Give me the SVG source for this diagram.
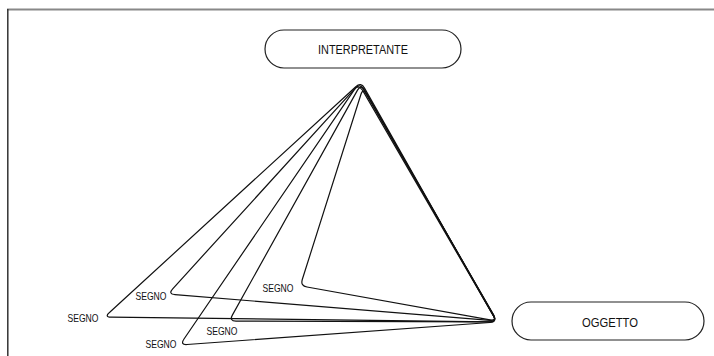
<svg xmlns="http://www.w3.org/2000/svg" width="714" height="356" viewBox="0 0 714 356">
<style>
.bg{fill:#fff}
.pill{fill:#fff;stroke:#222;stroke-width:1.2}
.tri{fill:none;stroke:#111;stroke-width:1.2;stroke-linejoin:round}
.lbl{font-family:"Liberation Sans",Arial,sans-serif;font-size:10.5px;fill:#111;text-anchor:middle}
.big{font-family:"Liberation Sans",Arial,sans-serif;font-size:12px;fill:#111;text-anchor:middle}
</style>
<rect class="bg" x="0" y="0" width="714" height="356"/>
<g id="frame">
<line x1="7" y1="9.5" x2="714" y2="9.5" stroke="#888" stroke-width="2"/>
<line x1="7.8" y1="9" x2="7.8" y2="356" stroke="#333" stroke-width="1.5"/>
</g>
<g id="connectors">
<path class="tri" d="M355.8,86.7 L110,312 Q104,317 111,317.2 L490,321.8 Q497,322 493.5,315.9 L364.5,88.1 Q361,82 355.8,86.7 Z"/>
<path class="tri" d="M355.3,88.2 L172.7,288.8 Q168,294 175,294.6 L490,320.4 Q497,321 493.5,314.9 L363.5,89.1 Q360,83 355.3,88.2 Z"/>
<path class="tri" d="M357.5,90.1 L232.5,314.9 Q229,321 236,321.1 L490,321.9 Q497,322 493.5,315.9 L364.5,90.1 Q361,84 357.5,90.1 Z"/>
<path class="tri" d="M354.2,89.8 L184,339 Q180,345 187,344.5 L490,322.5 Q497,322 493.5,315.9 L362.5,90.1 Q358,84 354.2,89.8 Z"/>
<path class="tri" d="M360.8,94.7 L302.2,279.8 Q300.5,286 307,287 L490,319.8 Q497,321 493.5,314.9 L366.5,94.1 Q363,88 360.8,94.7 Z"/>
</g>
<g id="interpretante">
<rect class="pill" x="265" y="30" width="196" height="38" rx="19"/>
<text class="big" x="363" y="53.5" textLength="90" lengthAdjust="spacingAndGlyphs">INTERPRETANTE</text>
</g>
<g id="oggetto">
<rect class="pill" x="512" y="302" width="192" height="38" rx="19"/>
<text class="big" x="610" y="326.5" textLength="56" lengthAdjust="spacingAndGlyphs">OGGETTO</text>
</g>
<g id="segno1"><text class="lbl" x="83" y="321.8" textLength="31" lengthAdjust="spacingAndGlyphs">SEGNO</text></g>
<g id="segno2"><text class="lbl" x="151" y="299.8" textLength="31" lengthAdjust="spacingAndGlyphs">SEGNO</text></g>
<g id="segno3"><text class="lbl" x="222" y="334.8" textLength="31" lengthAdjust="spacingAndGlyphs">SEGNO</text></g>
<g id="segno4"><text class="lbl" x="161" y="347.8" textLength="31" lengthAdjust="spacingAndGlyphs">SEGNO</text></g>
<g id="segno5"><text class="lbl" x="278" y="291.8" textLength="31" lengthAdjust="spacingAndGlyphs">SEGNO</text></g>
</svg>
